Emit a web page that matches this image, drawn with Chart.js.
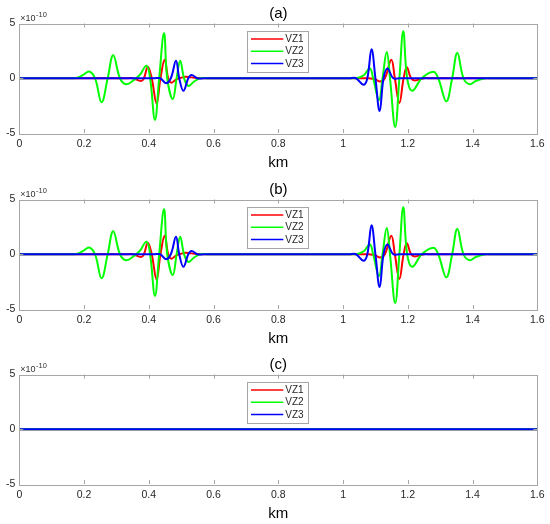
<!DOCTYPE html>
<html>
<head>
<meta charset="utf-8">
<script src="https://cdn.jsdelivr.net/npm/chart.js@4.4.1/dist/chart.umd.min.js"></script>
<style>
  html, body { margin: 0; padding: 0; background: #fff; }
  #wrap { position: relative; width: 550px; height: 524px; overflow: hidden; }
  canvas { position: absolute; left: 0; }
</style>
</head>
<body>
<div id="wrap">
  <canvas id="panelA" width="550" height="173" style="top:0px"></canvas>
  <canvas id="panelB" width="550" height="173" style="top:176px"></canvas>
  <canvas id="panelC" width="550" height="173" style="top:351px"></canvas>
</div>
<script>
// positions in km, amplitudes in units of 1e-10
const xTicks = [0, 0.2, 0.4, 0.6, 0.8, 1, 1.2, 1.4, 1.6];
const yTicks = [-5, 0, 5];
const seriesNames = ['VZ1', 'VZ2', 'VZ3'];
const seriesColors = ['#ff0000', '#00ff00', '#0000ff'];
const panelTitles = ['(a)', '(b)', '(c)'];

const vz1Km  = [0, 0.33, 0.35, 0.376, 0.385, 0.397, 0.409, 0.424, 0.436, 0.449, 0.46, 0.47, 0.485, 0.51, 0.53, 0.56, 0.58,
                1.06, 1.08, 1.1, 1.114, 1.129, 1.149, 1.16, 1.174, 1.187, 1.197, 1.21, 1.222, 1.25, 1.27, 1.6];
const vz1Amp = [0, 0, 0, -0.25, 0, 1.05, 0, -2.3, 0, 1.7, 0, -0.4, -0.1, 0.12, 0.08, 0, 0,
                0, 0, -0.1, -0.3, 0, 1.7, 0, -2.25, 0, 1.0, 0, -0.2, 0, 0, 0];

const vz2Km  = [0, 0.14, 0.16, 0.18, 0.2, 0.216, 0.234, 0.254, 0.273, 0.29, 0.311, 0.329, 0.35, 0.372, 0.393, 0.404,
                0.419, 0.432, 0.447, 0.457, 0.474, 0.486, 0.497, 0.509, 0.522, 0.54, 0.558, 0.578,
                1.01, 1.03, 1.045, 1.065, 1.083, 1.093, 1.111, 1.122, 1.135, 1.145, 1.161, 1.174, 1.186, 1.198,
                1.214, 1.243, 1.279, 1.294, 1.319, 1.337, 1.353, 1.372, 1.391, 1.41, 1.44, 1.46, 1.6];
const vz2Amp = [0, 0, 0, 0.05, 0.35, 0.62, 0, -2.2, 0, 2.1, 0, -0.55, -0.25, 0.3, 1.15, 0,
                -3.8, 0, 4.1, 0, -1.9, 0, 1.6, 0, -0.7, -0.3, 0, 0,
                0, 0, 0.02, 0.3, 0.9, 0, -2.0, 0, 2.4, 0, -4.45, 0, 4.3, 0,
                -1.15, 0, 0.6, 0, -2.1, 0, 2.3, 0, -0.55, -0.25, 0, 0, 0];

const vz3Km  = [0, 0.415, 0.435, 0.453, 0.468, 0.484, 0.494, 0.507, 0.522, 0.532, 0.55, 0.57,
                1.02, 1.04, 1.063, 1.075, 1.088, 1.1, 1.113, 1.125, 1.137, 1.155, 1.175, 1.6];
const vz3Amp = [0, 0, 0, -0.45, 0, 1.6, 0, -1.15, 0, 0.3, 0, 0,
                0, 0, -0.6, 0, 2.65, 0, -3.0, 0, 0.9, 0, 0, 0];

const flatKm  = [0, 1.6];
const flatAmp = [0, 0];

Chart.defaults.font.family = "'Liberation Sans', Arial, sans-serif";
Chart.defaults.color = '#262626';

function toPoints(km, amp) {
  return km.map((v, i) => ({ x: v, y: amp[i] }));
}

// MATLAB style box: inward ticks, legend box, exponent label
const matlabAxes = {
  id: 'matlabAxes',
  afterDatasetsDraw(chart) {
    const { ctx, chartArea: a, scales: { x, y } } = chart;
    ctx.save();
    ctx.strokeStyle = '#a6a6a6';
    ctx.lineWidth = 1;
    ctx.beginPath();
    x.ticks.forEach(t => {
      const px = Math.round(x.getPixelForValue(t.value)) + 0.5;
      if (px <= a.left + 1 || px >= a.right - 1) return;
      ctx.moveTo(px, a.top); ctx.lineTo(px, a.top + 4);
      ctx.moveTo(px, a.bottom); ctx.lineTo(px, a.bottom - 4);
    });
    y.ticks.forEach(t => {
      const py = Math.round(y.getPixelForValue(t.value)) + 0.5;
      if (py <= a.top + 1 || py >= a.bottom - 1) return;
      ctx.moveTo(a.left, py); ctx.lineTo(a.left + 4, py);
      ctx.moveTo(a.right, py); ctx.lineTo(a.right - 4, py);
    });
    ctx.stroke();
    ctx.strokeRect(Math.round(a.left) + 0.5, Math.round(a.top) + 0.5,
                   Math.round(a.width), Math.round(a.height));
    ctx.restore();
  },
  afterDraw(chart) {
    const { ctx, chartArea: a } = chart;
    ctx.save();
    // legend
    const lx = a.left + 228, ly = a.top + 7.7, lw = 61.4, lh = 40.7;
    ctx.fillStyle = '#ffffff';
    ctx.fillRect(lx, ly, lw, lh);
    ctx.strokeStyle = '#a6a6a6';
    ctx.lineWidth = 1;
    ctx.strokeRect(Math.round(lx) + 0.5, Math.round(ly) + 0.5, Math.round(lw), Math.round(lh));
    ctx.font = "10px 'Liberation Sans', Arial, sans-serif";
    ctx.textBaseline = 'middle';
    ctx.textAlign = 'left';
    seriesNames.forEach((name, i) => {
      const ry = ly + 7.7 + i * 12.3;
      ctx.strokeStyle = seriesColors[i];
      ctx.lineWidth = 1.5;
      ctx.beginPath();
      ctx.moveTo(lx + 3.7, ry);
      ctx.lineTo(lx + 36, ry);
      ctx.stroke();
      ctx.fillStyle = '#262626';
      ctx.fillText(name, lx + 38, ry + 0.5);
    });
    // exponent label
    ctx.fillStyle = '#333333';
    ctx.textBaseline = 'alphabetic';
    ctx.font = "9px 'Liberation Sans', Arial, sans-serif";
    ctx.fillText('\u00d710', a.left + 1, a.top - 2.6);
    const w = ctx.measureText('\u00d710').width;
    ctx.font = "7.5px 'Liberation Sans', Arial, sans-serif";
    ctx.fillText('-10', a.left + 1.5 + w, a.top - 6.8);
    ctx.restore();
  }
};

function makePanel(id, title, series) {
  new Chart(document.getElementById(id), {
    type: 'line',
    data: {
      datasets: series.map((s, i) => ({
        label: seriesNames[i],
        data: s,
        borderColor: seriesColors[i],
        borderWidth: 2,
        pointRadius: 0,
        fill: false,
        tension: 0.4,
        order: 3 - i
      }))
    },
    options: {
      responsive: false,
      animation: false,
      layout: { padding: { top: 0, left: 0, right: 12.7, bottom: 0 } },
      plugins: {
        legend: { display: false },
        tooltip: { enabled: false },
        title: {
          display: true,
          text: title,
          fullSize: false,
          color: '#000000',
          font: { size: 15, weight: 'normal' },
          padding: { top: 5, bottom: 0.5 }
        }
      },
      scales: {
        x: {
          type: 'linear',
          min: 0,
          max: 1.6,
          afterBuildTicks: s => { s.ticks = xTicks.map(v => ({ value: v })); },
          afterFit: s => { s.height = 40; },
          ticks: {
            callback: v => String(v),
            font: { size: 10.5 },
            padding: 5,
            maxRotation: 0,
            autoSkip: false
          },
          grid: { display: false, drawTicks: false },
          border: { display: false },
          title: {
            display: true,
            text: 'km',
            color: '#000000',
            font: { size: 15 },
            padding: { top: 0, bottom: 0.8 }
          }
        },
        y: {
          type: 'linear',
          min: -5,
          max: 5,
          afterBuildTicks: s => { s.ticks = yTicks.map(v => ({ value: v })); },
          afterFit: s => { s.width = 19.3; },
          ticks: { font: { size: 10.5 }, padding: 4 },
          grid: { display: false, drawTicks: false },
          border: { display: false }
        }
      }
    },
    plugins: [matlabAxes]
  });
}

const waveSeries = [toPoints(vz1Km, vz1Amp), toPoints(vz2Km, vz2Amp), toPoints(vz3Km, vz3Amp)];
const flatSeries = [toPoints(flatKm, flatAmp), toPoints(flatKm, flatAmp), toPoints(flatKm, flatAmp)];

makePanel('panelA', panelTitles[0], waveSeries);
makePanel('panelB', panelTitles[1], waveSeries);
makePanel('panelC', panelTitles[2], flatSeries);
</script>
</body>
</html>
